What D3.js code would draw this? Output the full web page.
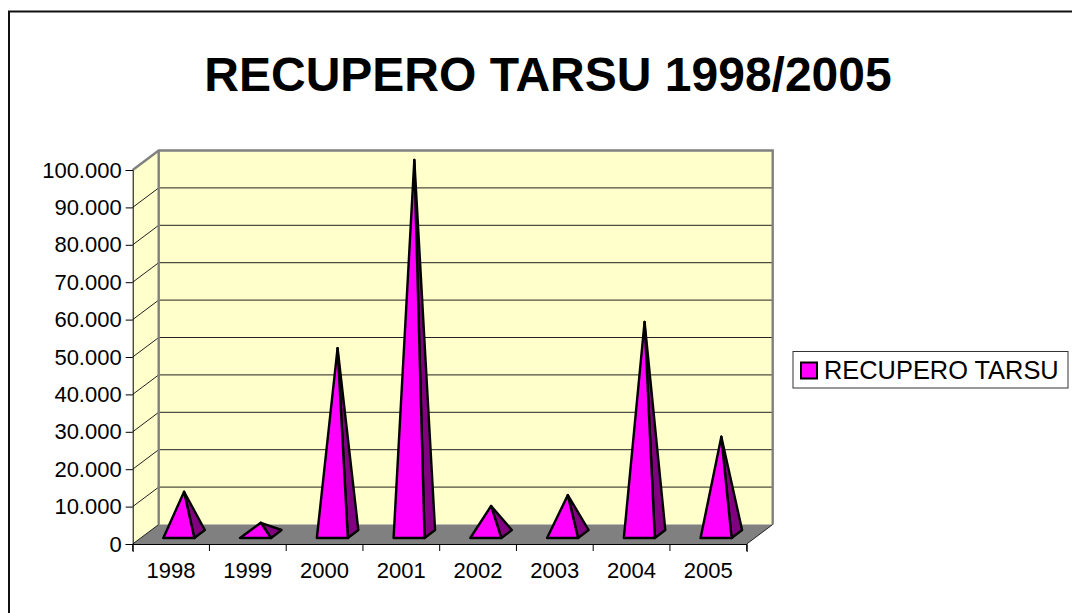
<!DOCTYPE html>
<html><head><meta charset="utf-8">
<script src="https://cdn.jsdelivr.net/npm/d3@7/dist/d3.min.js"></script>
<style>html,body{margin:0;padding:0;background:#fff}svg{display:block}text{font-family:"Liberation Sans",Arial,sans-serif;fill:#000}</style>
</head><body><svg id="c" width="1072" height="613"></svg>
<script>
const categories=["1998","1999","2000","2001","2002","2003","2004","2005"];
const values=[11300,3000,49700,100000,7500,10400,56700,26000];
const yTicks=[0,10000,20000,30000,40000,50000,60000,70000,80000,90000,100000];
const seriesName="RECUPERO TARSU";
const titleText="RECUPERO TARSU 1998/2005";

const svg=d3.select("#c");
const L=132.7,R=746.7,B=544,T=170,dx=26,dy=-19.5;
const x=d3.scaleBand().domain(categories).range([L,R]);
const y=d3.scaleLinear().domain([0,100000]).range([B,T]);
const line=d3.line();
const fmt=v=>d3.format(",")(v).replace(/,/g,".");
const gray="#808080";

svg.append("path").attr("d","M9,613V11.5H1072").attr("fill","none").attr("stroke","#111").attr("stroke-width",2);
svg.append("text").attr("x",548).attr("y",90.5).attr("text-anchor","middle").attr("font-size",48).attr("font-weight","bold").text(titleText);

svg.append("path").attr("d",line([[L,B],[L,T],[L+dx,T+dy],[L+dx,B+dy]])+"Z").attr("fill","#ffffcc");
svg.append("path").attr("d",line([[L+dx,T+dy],[R+dx,T+dy],[R+dx,B+dy],[L+dx,B+dy]])+"Z").attr("fill","#ffffcc");
svg.append("path").attr("d",line([[L,B],[R,B],[R+dx,B+dy],[L+dx,B+dy]])+"Z").attr("fill",gray);
yTicks.slice(1,-1).forEach(t=>{
  const p=y(t);
  svg.append("path").attr("fill","none").attr("stroke","#222").attr("stroke-width",1)
    .attr("d",line([[L,p],[L+dx,p+dy],[R+dx,p+dy]]));
});
svg.append("path").attr("fill","none").attr("stroke",gray).attr("stroke-width",2.4)
  .attr("d",line([[L,T],[L+dx,T+dy],[R+dx,T+dy],[R+dx,B+dy]]));
svg.append("path").attr("fill","none").attr("stroke",gray).attr("stroke-width",2.4)
  .attr("d",line([[L+dx,T+dy],[L+dx,B+dy]]));
svg.append("path").attr("fill","none").attr("stroke","#222").attr("stroke-width",1)
  .attr("d",line([[R,B],[R+dx,B+dy]]));
svg.append("path").attr("fill","none").attr("stroke","#222").attr("stroke-width",1)
  .attr("d",line([[L,B],[L+dx,B+dy]]));

const bw=15.5,hdx=5.25,hdy=4;
categories.forEach((c,i)=>{
  const cx=x(c)+x.bandwidth()/2+dx/2, cy=B+dy/2-0.25;
  const ay=cy-(y(0)-y(values[i]));
  const fl=[cx-bw-hdx,cy+hdy], fr=[cx+bw-hdx,cy+hdy], br=[cx+bw+hdx,cy-hdy], apex=[cx,ay];
  svg.append("path").attr("d",line([fr,br,apex])+"Z").attr("fill","#800080").attr("stroke","#000").attr("stroke-width",2.4).attr("stroke-linejoin","round");
  svg.append("path").attr("d",line([fl,fr,apex])+"Z").attr("fill","#ff00ff").attr("stroke","#000").attr("stroke-width",2.4).attr("stroke-linejoin","round");
});

const yAxis=d3.axisLeft(y).tickValues(yTicks).tickFormat(fmt).tickSize(7).tickPadding(4);
const gy=svg.append("g").attr("transform",`translate(${L},0)`).call(yAxis);
gy.selectAll("text").attr("font-size",22).style("font-family",'"Liberation Sans"');
gy.selectAll("line,path").attr("stroke","#000");
const xAxis=d3.axisBottom(x).tickSize(8).tickPadding(10);
const gx=svg.append("g").attr("transform",`translate(0,${B})`).call(xAxis);
gx.selectAll(".tick line").remove();
gx.selectAll("text").attr("font-size",22).style("font-family",'"Liberation Sans"');
gx.select("path").attr("stroke","#000");
gx.selectAll(".sep").data(categories.concat(["end"])).enter().append("line").attr("class","sep")
  .attr("x1",(d,i)=>i<categories.length?x(d):R).attr("x2",(d,i)=>i<categories.length?x(d):R)
  .attr("y1",0).attr("y2",7).attr("stroke","#000");

const lg=svg.append("g");
lg.append("rect").attr("x",793).attr("y",351.5).attr("width",275).attr("height",36.5).attr("fill","#fff").attr("stroke","#333").attr("stroke-width",1);
lg.append("rect").attr("x",801).attr("y",362.5).attr("width",16).attr("height",16).attr("fill","#ff00ff").attr("stroke","#000").attr("stroke-width",2);
lg.append("text").attr("x",824).attr("y",379).attr("font-size",25.4).text(seriesName);
</script></body></html>
